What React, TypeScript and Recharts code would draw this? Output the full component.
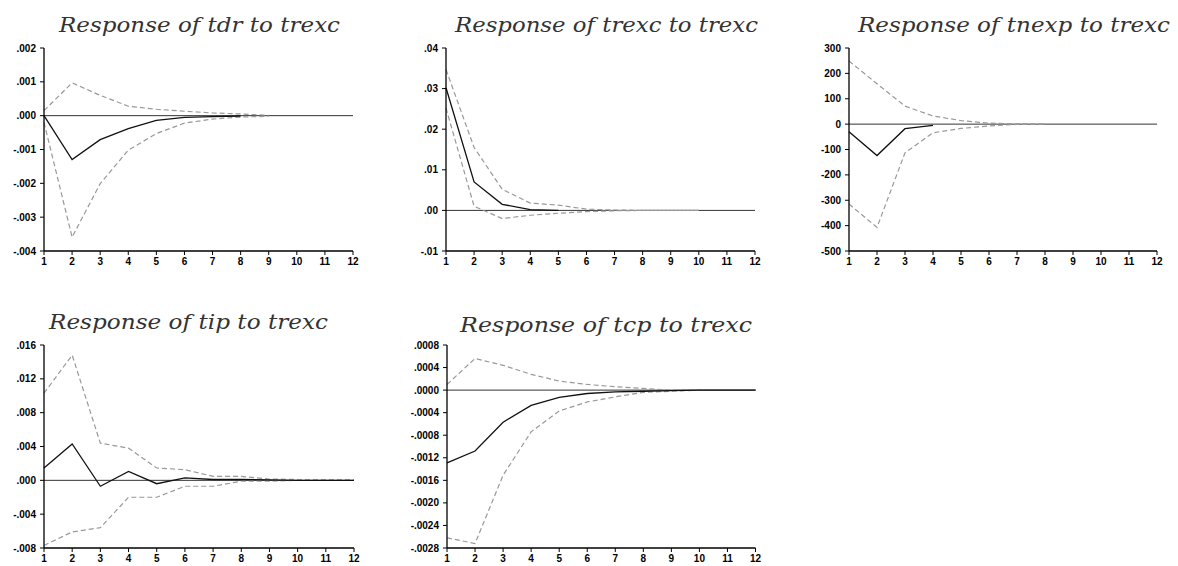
import React from "react";
import { LineChart, Line, XAxis, YAxis, ReferenceLine } from "recharts";

// Horizon (periods)
const periods = [1, 2, 3, 4, 5, 6, 7, 8, 9, 10, 11, 12];

// Panel 1: Response of tdr to trexc
const tdrResp = [0, -0.0013, -0.00071, -0.00038, -0.00014, -0.00005, -0.00003, -0.00001, null, null, null, null];
const tdrUpper = [0.00015, 0.00097, 0.0006, 0.00028, 0.00019, 0.00013, 0.00008, 0.00005, 0.00001, null, null, null];
const tdrLower = [-0.0002, -0.00359, -0.00201, -0.00102, -0.00053, -0.00022, -0.0001, -0.00004, -0.00002, null, null, null];
const tdrTicks = [0.002, 0.001, 0, -0.001, -0.002, -0.003, -0.004];

// Panel 2: Response of trexc to trexc
const trexcResp = [0.0302, 0.007, 0.0015, 0.0002, 0, null, null, null, null, null, null, null];
const trexcUpper = [0.0347, 0.0155, 0.0052, 0.0018, 0.0013, 0.0003, 0.0001, 0, 0, 0, null, null];
const trexcLower = [0.0252, 0.001, -0.002, -0.0012, -0.0007, -0.0003, -0.0001, 0, 0, 0, null, null];
const trexcTicks = [0.04, 0.03, 0.02, 0.01, 0, -0.01];

// Panel 3: Response of tnexp to trexc
const tnexpResp = [-30, -124, -18, -5, null, null, null, null, null, null, null, null];
const tnexpUpper = [249, 159, 71, 32, 14, 4, 1, 0, null, null, null, null];
const tnexpLower = [-315, -407, -113, -34, -17, -7, -1, 0, null, null, null, null];
const tnexpTicks = [300, 200, 100, 0, -100, -200, -300, -400, -500];

// Panel 4: Response of tip to trexc
const tipResp = [0.00146, 0.0043, -0.0007, 0.00106, -0.0004, 0.00028, 0.0001, 0.0001, 0.00005, 0, 0, 0];
const tipUpper = [0.0103, 0.0148, 0.0044, 0.0038, 0.00146, 0.00126, 0.00047, 0.00047, 0.00016, 0.0001, 0.0001, 0.0001];
const tipLower = [-0.0077, -0.0061, -0.0056, -0.002, -0.002, -0.0007, -0.0007, -0.0001, -0.0001, 0, 0, 0];
const tipTicks = [0.016, 0.012, 0.008, 0.004, 0, -0.004, -0.008];

// Panel 5: Response of tcp to trexc
const tcpResp = [-0.00129, -0.00108, -0.00057, -0.00027, -0.00013, -0.00006, -0.00003, -0.00002, -0.00001, 0, 0, 0];
const tcpUpper = [0.0001, 0.00056, 0.00044, 0.00028, 0.00016, 0.0001, 0.00006, 0.00003, 0, 0, 0, 0];
const tcpLower = [-0.00262, -0.00272, -0.00151, -0.00074, -0.00037, -0.00021, -0.00012, -0.00004, -0.00002, 0, 0, 0];
const tcpTicks = [0.0008, 0.0004, 0, -0.0004, -0.0008, -0.0012, -0.0016, -0.002, -0.0024, -0.0028];

const titles = [
  "Response of tdr to trexc",
  "Response of trexc to trexc",
  "Response of tnexp to trexc",
  "Response of tip to trexc",
  "Response of tcp to trexc",
];

function buildRows(resp: (number | null)[], upper: (number | null)[], lower: (number | null)[]) {
  return periods.map((p, i) => ({ x: p, resp: resp[i], upper: upper[i], lower: lower[i] }));
}

function fmt(decimals: number) {
  return (v: number) => {
    let s = v.toFixed(decimals);
    if (Math.abs(v) < 1e-12) s = (0).toFixed(decimals);
    return s.replace(/^(-?)0\./, "$1.");
  };
}

const YW = 44;
const TOPPAD = 10;
const RIGHTPAD = 12;
const XH = 22;

type PanelProps = {
  plotLeft: number;
  plotTop: number;
  plotW: number;
  plotH: number;
  ticks: number[];
  decimals: number;
  rows: any[];
};

function Panel({ plotLeft, plotTop, plotW, plotH, ticks, decimals, rows }: PanelProps) {
  const w = plotW + YW + RIGHTPAD;
  const h = plotH + TOPPAD + XH;
  const yMin = Math.min(...ticks);
  const yMax = Math.max(...ticks);
  const tickStyle = { fontSize: 10, fontWeight: 700, fill: "#000", fontFamily: "Liberation Sans, Arial, sans-serif" };
  return (
    <div style={{ position: "absolute", left: plotLeft - YW, top: plotTop - TOPPAD, width: w, height: h }}>
      <LineChart width={w} height={h} data={rows} margin={{ top: TOPPAD, right: RIGHTPAD, left: 0, bottom: 0 }}>
        <XAxis
          dataKey="x"
          type="number"
          domain={[1, 12]}
          ticks={periods}
          interval={0}
          height={XH}
          tickSize={4}
          tickMargin={3}
          axisLine={{ stroke: "#000", strokeWidth: 1.3 }}
          tickLine={{ stroke: "#000" }}
          tick={tickStyle}
        />
        <YAxis
          type="number"
          domain={[yMin, yMax]}
          ticks={ticks}
          interval={0}
          width={YW}
          tickSize={4}
          tickMargin={4}
          tickFormatter={fmt(decimals)}
          axisLine={{ stroke: "#000", strokeWidth: 1.3 }}
          tickLine={{ stroke: "#000" }}
          tick={tickStyle}
        />
        <ReferenceLine y={0} stroke="#333" strokeWidth={1} ifOverflow="extendDomain" />
        <Line type="linear" dataKey="upper" stroke="#999" strokeWidth={1.2} strokeDasharray="5 3" dot={false} activeDot={false} isAnimationActive={false} />
        <Line type="linear" dataKey="lower" stroke="#999" strokeWidth={1.2} strokeDasharray="5 3" dot={false} activeDot={false} isAnimationActive={false} />
        <Line type="linear" dataKey="resp" stroke="#111" strokeWidth={1.3} dot={false} activeDot={false} isAnimationActive={false} />
      </LineChart>
    </div>
  );
}

const titleStyle = {
  fontFamily: "DejaVu Serif, serif",
  fontStyle: "italic" as const,
  fontSize: 21,
  fill: "#333",
};

export default function App() {
  return (
    <div style={{ position: "absolute", left: 0, top: 0, width: 1178, height: 566, background: "#fff", overflow: "hidden" }}>
      <Panel plotLeft={44} plotTop={47.5} plotW={309} plotH={203} ticks={tdrTicks} decimals={3} rows={buildRows(tdrResp, tdrUpper, tdrLower)} />
      <Panel plotLeft={446} plotTop={47.5} plotW={309} plotH={203} ticks={trexcTicks} decimals={2} rows={buildRows(trexcResp, trexcUpper, trexcLower)} />
      <Panel plotLeft={848.5} plotTop={47.5} plotW={308} plotH={203} ticks={tnexpTicks} decimals={0} rows={buildRows(tnexpResp, tnexpUpper, tnexpLower)} />
      <Panel plotLeft={43.5} plotTop={345} plotW={310} plotH={203} ticks={tipTicks} decimals={3} rows={buildRows(tipResp, tipUpper, tipLower)} />
      <Panel plotLeft={446.5} plotTop={345} plotW={308.5} plotH={203} ticks={tcpTicks} decimals={4} rows={buildRows(tcpResp, tcpUpper, tcpLower)} />
      <svg width={1178} height={566} style={{ position: "absolute", left: 0, top: 0, pointerEvents: "none" }}>
        <text x={59} y={32} textLength={281} lengthAdjust="spacingAndGlyphs" style={titleStyle}>{titles[0]}</text>
        <text x={455} y={32} textLength={303} lengthAdjust="spacingAndGlyphs" style={titleStyle}>{titles[1]}</text>
        <text x={858} y={32} textLength={312} lengthAdjust="spacingAndGlyphs" style={titleStyle}>{titles[2]}</text>
        <text x={49} y={329} textLength={279} lengthAdjust="spacingAndGlyphs" style={titleStyle}>{titles[3]}</text>
        <text x={460} y={332} textLength={292} lengthAdjust="spacingAndGlyphs" style={titleStyle}>{titles[4]}</text>
      </svg>
    </div>
  );
}
